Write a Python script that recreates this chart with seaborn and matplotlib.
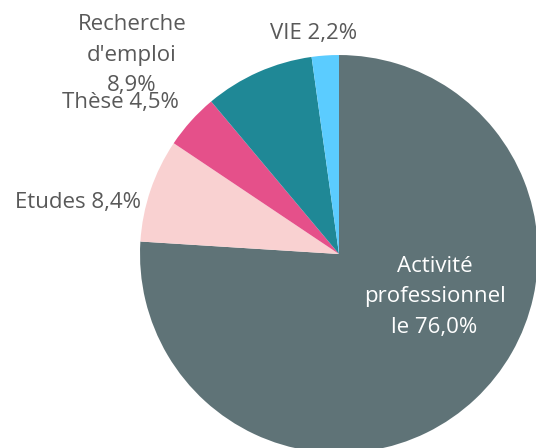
import matplotlib
matplotlib.use("Agg")
import matplotlib.pyplot as plt
import seaborn as sns

# Parts of the respondents by situation
labels = ["Activité\nprofessionnel\nle", "Etudes", "Thèse", "Recherche\nd'emploi\n", "VIE"]
values = [76.0, 8.4, 4.5, 8.9, 2.2]
colors = ["#5f7377", "#f9d1d1", "#e5508a", "#1f8896", "#5bccff"]

sns.set_theme(style="white")
plt.rcParams["font.family"] = ["Open Sans", "DejaVu Sans"]

fig = plt.figure(figsize=(5.36, 4.48), dpi=100)
ax = fig.add_axes([0.2612, -0.0112, 0.7425, 0.8884])

wedges, _ = ax.pie(values, colors=colors, startangle=90, counterclock=False,
                   radius=1, wedgeprops=dict(linewidth=0))
ax.set_xlim(-1, 1)
ax.set_ylim(-1, 1)
ax.set_aspect("equal")
ax.axis("off")

# label placement (data coords) and text colour for each slice
label_pos = [(0.48, -0.216), (-1.31, 0.26), (-1.10, 0.76), (-1.04, 1.00), (-0.13, 1.11)]
label_col = ["white", "#595959", "#595959", "#595959", "#595959"]

for lab, v, (x, y), c in zip(labels, values, label_pos, label_col):
    pct = f"{v:.1f}%".replace(".", ",")
    sep = "" if lab.endswith("\n") else " "
    ax.text(x, y, f"{lab}{sep}{pct}", ha="center", va="center", color=c,
            fontsize=16, linespacing=1.58, clip_on=False)

fig.savefig("out.png", dpi=100)
